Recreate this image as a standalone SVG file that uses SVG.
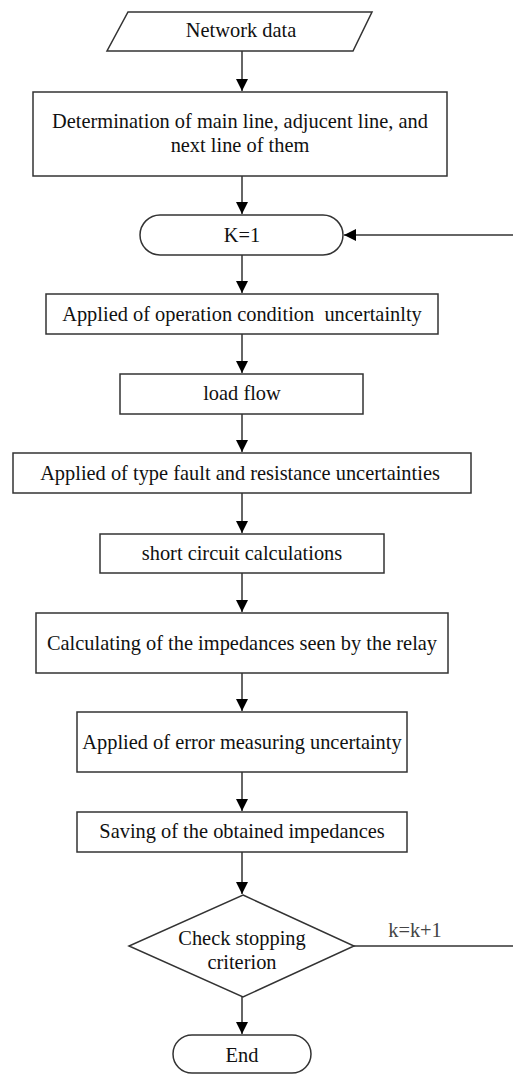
<svg xmlns="http://www.w3.org/2000/svg" width="513" height="1075" viewBox="0 0 513 1075">
<style>
.s{fill:#fff;stroke:#333;stroke-width:1.5}
.t{font-family:"Liberation Serif","Times New Roman",serif;font-size:20.4px;fill:#111;text-anchor:middle}
.c{stroke:#333;stroke-width:1.5;fill:none}
</style>
<defs>
<marker id="a" viewBox="0 0 10 10" refX="10" refY="5" markerWidth="12" markerHeight="14" orient="auto" markerUnits="userSpaceOnUse">
<path d="M0,0 L10,5 L0,10 z" fill="#000"/>
</marker>
</defs>
<rect width="513" height="1075" fill="#fff"/>
<g id="connectors">
<line class="c" x1="242" y1="51" x2="242" y2="91" marker-end="url(#a)"/>
<line class="c" x1="242" y1="176" x2="242" y2="214" marker-end="url(#a)"/>
<line class="c" x1="242" y1="255" x2="242" y2="293" marker-end="url(#a)"/>
<line class="c" x1="242" y1="334" x2="242" y2="373" marker-end="url(#a)"/>
<line class="c" x1="242" y1="414" x2="242" y2="452" marker-end="url(#a)"/>
<line class="c" x1="242" y1="493" x2="242" y2="533" marker-end="url(#a)"/>
<line class="c" x1="242" y1="573" x2="242" y2="612" marker-end="url(#a)"/>
<line class="c" x1="242" y1="673" x2="242" y2="711" marker-end="url(#a)"/>
<line class="c" x1="242" y1="772" x2="242" y2="811" marker-end="url(#a)"/>
<line class="c" x1="242" y1="852" x2="242" y2="894" marker-end="url(#a)"/>
<line class="c" x1="242" y1="997" x2="242" y2="1034" marker-end="url(#a)"/>
<line class="c" x1="354" y1="946" x2="513" y2="946"/>
<line class="c" x1="513" y1="235" x2="344" y2="235" marker-end="url(#a)"/>
<text class="t" x="415" y="937" style="fill:#444">k=k+1</text>
</g>
<g id="n1"><polygon class="s" points="128,12 372,12 353,51 107,51"/><text class="t" x="241" y="37">Network data</text></g>
<g id="n2"><rect class="s" x="33" y="92" width="414" height="84"/><text class="t" x="240" y="128">Determination of main line, adjucent line, and</text><text class="t" x="240" y="152">next line of them</text></g>
<g id="n3"><rect class="s" x="140" y="215" width="203" height="40" rx="20"/><text class="t" x="242" y="242">K=1</text></g>
<g id="n4"><rect class="s" x="46" y="294" width="392" height="40"/><text class="t" x="242" y="321" xml:space="preserve">Applied of operation condition  uncertainlty</text></g>
<g id="n5"><rect class="s" x="120" y="374" width="243" height="40"/><text class="t" x="242" y="400">load flow</text></g>
<g id="n6"><rect class="s" x="13" y="453" width="458" height="40"/><text class="t" x="240" y="480">Applied of type fault and resistance uncertainties</text></g>
<g id="n7"><rect class="s" x="100" y="534" width="284" height="39"/><text class="t" x="242" y="560">short circuit calculations</text></g>
<g id="n8"><rect class="s" x="36" y="613" width="412" height="60"/><text class="t" x="242" y="650">Calculating of the impedances seen by the relay</text></g>
<g id="n9"><rect class="s" x="77" y="712" width="330" height="60"/><text class="t" x="242" y="749">Applied of error measuring uncertainty</text></g>
<g id="n10"><rect class="s" x="77" y="812" width="330" height="40"/><text class="t" x="242" y="838">Saving of the obtained impedances</text></g>
<g id="n11"><polygon class="s" points="243,895 354,946 243,997 129,946"/><text class="t" x="242" y="945">Check stopping</text><text class="t" x="242" y="969">criterion</text></g>
<g id="n12"><rect class="s" x="173" y="1035" width="138" height="38" rx="19"/><text class="t" x="242" y="1062">End</text></g>
</svg>
